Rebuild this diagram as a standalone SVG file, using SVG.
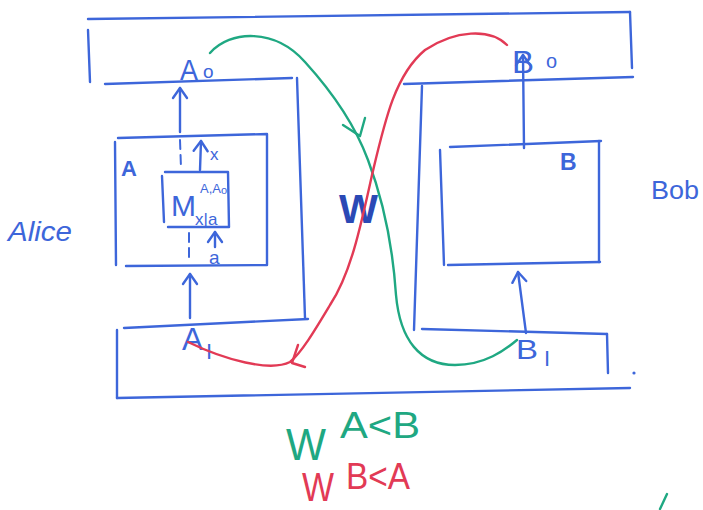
<svg xmlns="http://www.w3.org/2000/svg" width="703" height="510" viewBox="0 0 703 510">
<style>
.b{fill:none;stroke:#3d66da;stroke-width:2.4;stroke-linecap:round;stroke-linejoin:round}
.d{fill:none;stroke:#3d66da;stroke-width:2;stroke-dasharray:9 6;stroke-linecap:round}
.g{fill:none;stroke:#1fa882;stroke-width:2.4;stroke-linecap:round;stroke-linejoin:round}
.r{fill:none;stroke:#e23a55;stroke-width:2.4;stroke-linecap:round;stroke-linejoin:round}
.t{font-family:"Liberation Sans",Arial,sans-serif;fill:#3d66da}
.tg{font-family:"Liberation Sans",Arial,sans-serif;fill:#1fa882}
.tr{font-family:"Liberation Sans",Arial,sans-serif;fill:#e23a55}
</style>
<defs>
<marker id="ah" viewBox="0 0 20 20" refX="12" refY="10" markerWidth="20" markerHeight="20" markerUnits="userSpaceOnUse" orient="auto">
<path d="M2,3 L12,10 L2,17" fill="none" stroke="#3d66da" stroke-width="2.4" stroke-linecap="round" stroke-linejoin="round"/>
</marker>
</defs>
<rect width="703" height="510" fill="#ffffff"/>

<g id="frame">
<path class="b" d="M88,19 L630,12"/>
<path class="b" d="M88,30 L90,82"/>
<path class="b" d="M105,84 L292,78"/>
<path class="b" d="M297,78 L305,318"/>
<path class="b" d="M308,319 L124,328"/>
<path class="b" d="M117,330 L117,398"/>
<path class="b" d="M117,398 L630,388"/>
<path class="b" d="M630,12 L632,68"/>
<path class="b" d="M404,84 L633,77"/>
<path class="b" d="M422,86 L414,330"/>
<path class="b" d="M422,329 L607,334"/>
<path class="b" d="M607,334 L608,373"/>
<circle cx="634" cy="373" r="1.6" fill="#3d66da"/>
</g>

<g id="alice">
<text class="t" x="8" y="241" font-size="27" font-style="italic" textLength="64" lengthAdjust="spacingAndGlyphs">Alice</text>
</g>
<g id="bob">
<text class="t" x="651" y="199" font-size="25" textLength="48" lengthAdjust="spacingAndGlyphs">Bob</text>
</g>

<g id="port-Ao">
<text class="t" x="180" y="80" font-size="30" textLength="18" lengthAdjust="spacingAndGlyphs">A</text>
<text class="t" x="203" y="78" font-size="19">o</text>
</g>
<g id="port-AI">
<text class="t" x="182" y="350" font-size="31" textLength="21" lengthAdjust="spacingAndGlyphs">A</text>
<text class="t" x="206" y="359" font-size="22">I</text>
</g>
<g id="port-Bo">
<text class="t" x="512" y="73" font-size="31" textLength="22" lengthAdjust="spacingAndGlyphs">B</text>
<text class="t" x="546" y="68" font-size="20">o</text>
</g>
<g id="port-BI">
<text class="t" x="516" y="359" font-size="28" textLength="22" lengthAdjust="spacingAndGlyphs">B</text>
<text class="t" x="544" y="366" font-size="22">I</text>
</g>

<g id="box-A">
<path class="b" d="M118,138 L267,134 L267,265 L126,266"/>
<path class="b" d="M115,142 L116,265"/>
<text class="t" x="121" y="176" font-size="22" font-weight="bold">A</text>
</g>

<g id="box-M">
<path class="b" d="M165,172 L228,172 L229,227 L168,227"/>
<path class="b" d="M162,176 L164,222"/>
<text class="t" x="171" y="216" font-size="30">M</text>
<text class="t" x="200" y="193" font-size="13">A,A<tspan font-size="11" dy="1">o</tspan></text>
<text class="t" x="195" y="225" font-size="17">x|a</text>
</g>

<g id="box-B">
<path class="b" d="M450,147 L601,141"/>
<path class="b" d="M440,150 L444,265"/>
<path class="b" d="M599,141 L599,262"/>
<path class="b" d="M448,265 L600,262"/>
<text class="t" x="560" y="170" font-size="23" font-weight="bold">B</text>
</g>

<g id="label-W">
<text x="339" y="223" font-family="Liberation Sans,Arial,sans-serif" font-size="40" font-weight="bold" fill="#2b49b5" textLength="39" lengthAdjust="spacingAndGlyphs">W</text>
</g>

<g id="connectors">
<path class="b" d="M180,132 L180,88" marker-end="url(#ah)"/>
<path class="d" d="M180,140 L181,168"/>
<path class="d" d="M189,233 L189,260"/>
<path class="b" d="M200,170 L201,141" marker-end="url(#ah)"/>
<text class="t" x="210" y="160" font-size="17">x</text>
<path class="b" d="M215,247 L215,232" marker-end="url(#ah)"/>
<text class="t" x="209" y="264" font-size="19">a</text>
<path class="b" d="M190,318 L190,274" marker-end="url(#ah)"/>
<path class="b" d="M524,148 L523,55" marker-end="url(#ah)"/>
<path class="b" d="M526,333 L518,272" marker-end="url(#ah)"/>

<path class="g" d="M210,53 C230,30 275,28 305,62 C335,95 355,125 368,160 C385,205 393,250 396,295 C400,340 420,365 455,365 C485,365 505,350 517,340"/>
<path class="g" d="M343,125 L360,136 L365,118"/>

<path class="r" d="M507,45 C490,28 455,30 425,50 C395,75 385,120 372,175 C360,230 350,275 330,305 C315,330 302,352 290,362 C270,372 225,360 188,342"/>
<path class="r" d="M298,345 L292,363 L305,367"/>
</g>

<g id="legend">
<text class="tg" x="286" y="460" font-size="44" textLength="40" lengthAdjust="spacingAndGlyphs">W</text>
<text class="tg" x="340" y="438" font-size="37" textLength="80" lengthAdjust="spacingAndGlyphs">A&lt;B</text>
<text class="tr" x="302" y="501" font-size="40" textLength="32" lengthAdjust="spacingAndGlyphs">W</text>
<text class="tr" x="346" y="489" font-size="36" textLength="64" lengthAdjust="spacingAndGlyphs">B&lt;A</text>
</g>
<path class="g" d="M660,509 L667,494"/>
</svg>
